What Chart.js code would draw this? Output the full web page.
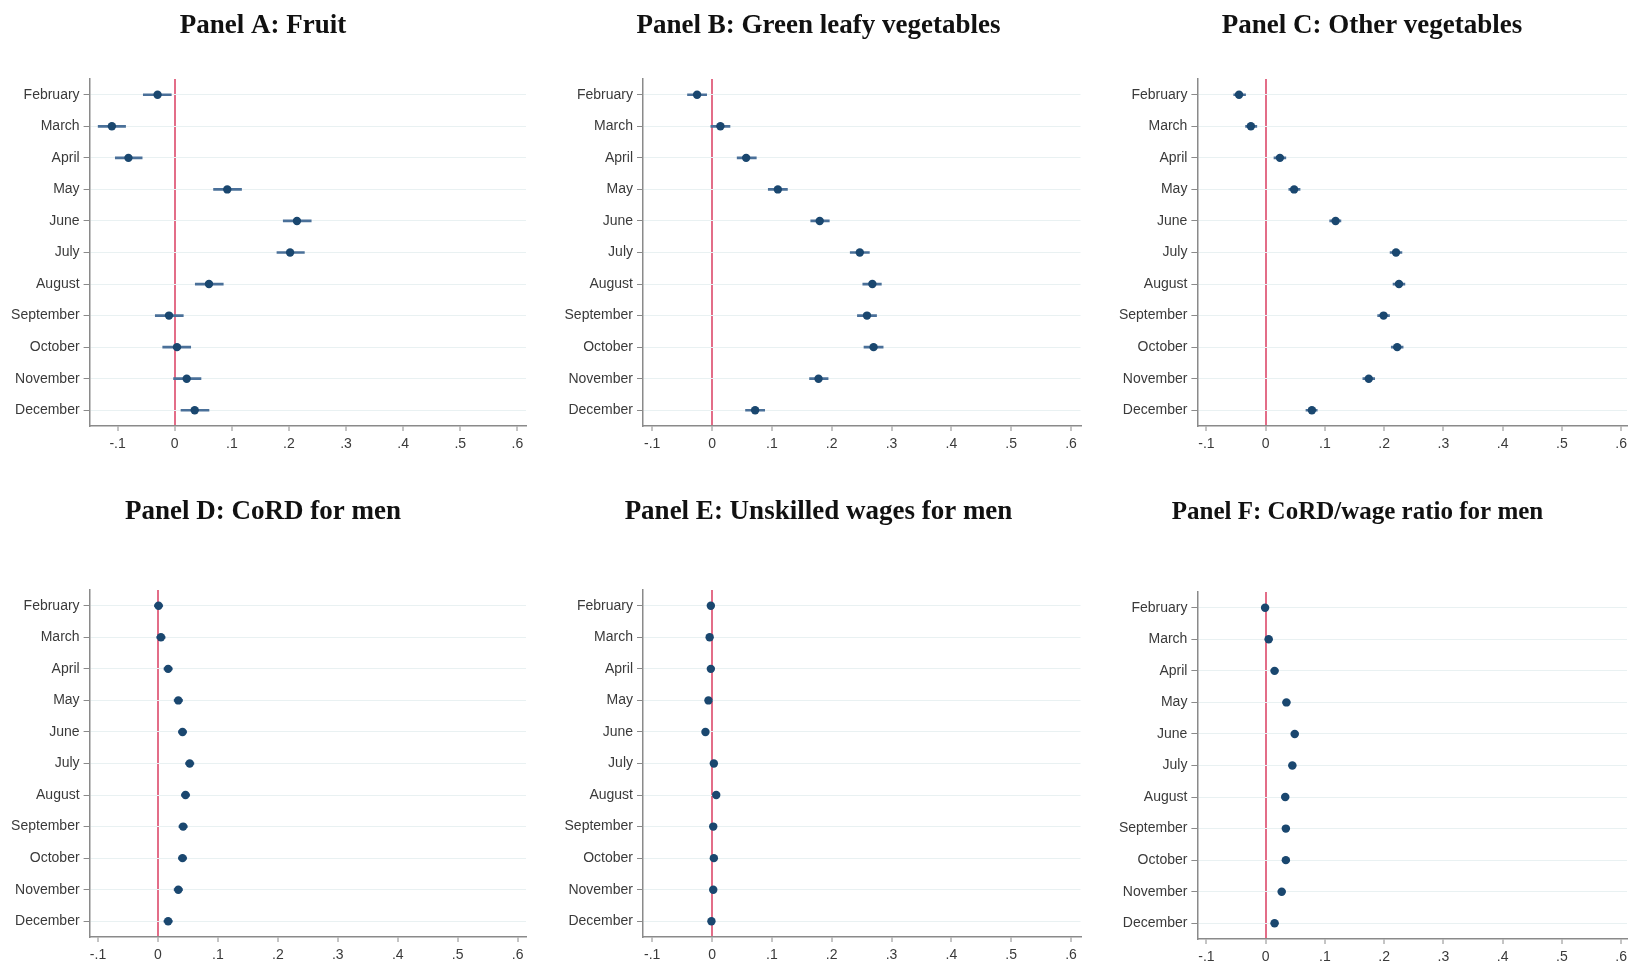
<!DOCTYPE html>
<html>
<head>
<meta charset="utf-8">
<script src="https://cdn.jsdelivr.net/npm/chart.js@4.4.1/dist/chart.umd.min.js"></script>
<style>
  html, body { margin: 0; padding: 0; background: #fff; }
  #wrap { position: relative; width: 1632px; height: 962px; overflow: hidden; }
  canvas { position: absolute; }
</style>
</head>
<body>
<div id="wrap">
  <canvas id="panel-a" width="544" height="480" style="left:0;top:0"></canvas>
  <canvas id="panel-b" width="544" height="480" style="left:544px;top:0"></canvas>
  <canvas id="panel-c" width="544" height="480" style="left:1088px;top:0"></canvas>
  <canvas id="panel-d" width="544" height="482" style="left:0;top:480px"></canvas>
  <canvas id="panel-e" width="544" height="482" style="left:544px;top:480px"></canvas>
  <canvas id="panel-f" width="544" height="482" style="left:1088px;top:480px"></canvas>
</div>
<script>
// month coefficients with 95% CIs
const months = ["February", "March", "April", "May", "June", "July",
  "August", "September", "October", "November", "December"];
const xTickValues = [-0.1, 0, 0.1, 0.2, 0.3, 0.4, 0.5, 0.6];
const xTickLabels = ["-.1", "0", ".1", ".2", ".3", ".4", ".5", ".6"];

const fruitEst = [-0.030, -0.110, -0.081, 0.092, 0.214, 0.202, 0.060, -0.010, 0.004, 0.021, 0.035];
const fruitLo = [-0.055, -0.134, -0.104, 0.068, 0.190, 0.179, 0.036, -0.034, -0.021, -0.002, 0.011];
const fruitHi = [-0.006, -0.086, -0.057, 0.117, 0.239, 0.227, 0.085, 0.015, 0.028, 0.046, 0.060];

const leafyEst = [-0.025, 0.014, 0.057, 0.110, 0.180, 0.247, 0.268, 0.259, 0.270, 0.178, 0.072];
const leafyLo = [-0.041, -0.002, 0.042, 0.094, 0.165, 0.231, 0.252, 0.243, 0.254, 0.163, 0.056];
const leafyHi = [-0.009, 0.030, 0.074, 0.126, 0.196, 0.263, 0.283, 0.275, 0.286, 0.194, 0.088];

const otherVegEst = [-0.045, -0.025, 0.024, 0.048, 0.118, 0.220, 0.225, 0.199, 0.222, 0.174, 0.078];
const otherVegLo = [-0.054, -0.034, 0.014, 0.039, 0.108, 0.210, 0.215, 0.189, 0.212, 0.164, 0.068];
const otherVegHi = [-0.034, -0.015, 0.034, 0.058, 0.127, 0.230, 0.235, 0.209, 0.232, 0.184, 0.087];

const cordEst = [0.001, 0.005, 0.017, 0.034, 0.041, 0.053, 0.046, 0.042, 0.041, 0.034, 0.017];
const cordLo = [-0.006, -0.002, 0.010, 0.027, 0.034, 0.046, 0.039, 0.035, 0.034, 0.027, 0.010];
const cordHi = [0.008, 0.012, 0.024, 0.041, 0.048, 0.060, 0.053, 0.049, 0.048, 0.041, 0.024];

const wageEst = [-0.002, -0.004, -0.002, -0.006, -0.011, 0.003, 0.007, 0.002, 0.003, 0.002, -0.001];
const wageLo = [-0.007, -0.009, -0.007, -0.011, -0.016, -0.002, 0.002, -0.003, -0.002, -0.003, -0.006];
const wageHi = [0.003, 0.001, 0.003, -0.001, -0.006, 0.008, 0.012, 0.007, 0.008, 0.007, 0.004];

const ratioEst = [-0.001, 0.005, 0.015, 0.035, 0.049, 0.045, 0.033, 0.034, 0.034, 0.027, 0.015];
const ratioLo = [-0.007, -0.001, 0.009, 0.029, 0.043, 0.039, 0.027, 0.028, 0.028, 0.021, 0.009];
const ratioHi = [0.005, 0.011, 0.021, 0.041, 0.055, 0.051, 0.039, 0.040, 0.040, 0.033, 0.021];

const NAVY = "#1a476f";
const CI_COLOR = "#4a7099";
const ZERO_RED = "#e36d88";
const AXIS_GRAY = "#8a8a8a";
const GRID = "#e9f1f2";
const TEXT = "#3a3a3a";
const SANS = "'Liberation Sans', Arial, sans-serif";

function makePanel(id, title, est, lo, hi, geo) {
  new Chart(document.getElementById(id), {
    type: "bar",
    data: {
      labels: months,
      datasets: [
        {
          type: "line",
          indexAxis: "y",
          data: est,
          showLine: false,
          pointRadius: 4.2,
          pointBorderWidth: 0,
          pointBackgroundColor: NAVY,
          order: 0,
        },
        {
          type: "bar",
          indexAxis: "y",
          data: lo.map((l, i) => [l, hi[i]]),
          backgroundColor: CI_COLOR,
          barThickness: 2,
          borderWidth: 0,
          order: 1,
        },
      ],
    },
    options: {
      indexAxis: "y",
      responsive: false,
      animation: false,
      layout: { padding: { left: geo.padLeft, right: geo.padRight, top: 0, bottom: geo.padBottom } },
      plugins: {
        legend: { display: false },
        tooltip: { enabled: false },
        title: {
          display: true,
          text: title,
          color: "#111",
          font: { family: "'Liberation Serif', 'Times New Roman', serif", size: geo.titleSize || 27, weight: "bold" },
          padding: { top: geo.titleTop, bottom: geo.titleBottom },
        },
      },
      scales: {
        x: {
          type: "linear",
          min: geo.xMin,
          max: geo.xMax,
          afterBuildTicks: (scale) => {
            scale.ticks = xTickValues.map((v) => ({ value: v }));
          },
          afterFit: (scale) => { scale.height = geo.axisHeight; },
          border: { display: true, color: AXIS_GRAY, width: 1.5 },
          grid: {
            color: (ctx) => (ctx.tick && ctx.tick.value === 0 ? ZERO_RED : "rgba(0,0,0,0)"),
            lineWidth: 2,
            tickColor: AXIS_GRAY,
            tickLength: 5,
            tickWidth: 1,
          },
          ticks: {
            color: TEXT,
            padding: 5,
            font: { family: SANS, size: 14 },
            callback: (v) => {
              const i = xTickValues.findIndex((t) => Math.abs(t - v) < 1e-9);
              return i >= 0 ? xTickLabels[i] : "";
            },
          },
        },
        y: {
          type: "category",
          offset: true,
          afterFit: (scale) => { scale.width = geo.axisWidth; },
          border: { display: true, color: AXIS_GRAY, width: 1.5 },
          grid: {
            offset: false,
            color: GRID,
            lineWidth: 1,
            tickColor: AXIS_GRAY,
            tickLength: 6,
            tickWidth: 1,
          },
          ticks: {
            color: TEXT,
            padding: 4,
            autoSkip: false,
            font: { family: SANS, size: 14 },
          },
        },
      },
    },
  });
}

const topRow = { titleTop: 9.8, titleBottom: 36.8, axisHeight: 40, padBottom: 14 };
const bottomRow = { titleTop: 16.2, titleBottom: 61.4, axisHeight: 25, padBottom: 0 };
const bottomRowF = { titleTop: 17.4, titleBottom: 64.6, titleSize: 25, axisHeight: 23, padBottom: 0 };
const leftCol = { xMin: -0.149, xMax: 0.615, padLeft: 0, axisWidth: 89.6, padRight: 18 };
const leftColD = { xMin: -0.114, xMax: 0.614, padLeft: 0, axisWidth: 89.6, padRight: 18 };
const midCol = { xMin: -0.1154, xMax: 0.6159, padLeft: 12.5, axisWidth: 86.5, padRight: 7.5 };
const rightCol = { xMin: -0.1153, xMax: 0.610, padLeft: 24, axisWidth: 85.4, padRight: 0 };
const rightColF = { xMin: -0.1153, xMax: 0.610, padLeft: -5, axisWidth: 114.4, padRight: 0 };

makePanel("panel-a", "Panel A: Fruit", fruitEst, fruitLo, fruitHi, { ...topRow, ...leftCol });
makePanel("panel-b", "Panel B: Green leafy vegetables", leafyEst, leafyLo, leafyHi, { ...topRow, ...midCol });
makePanel("panel-c", "Panel C: Other vegetables", otherVegEst, otherVegLo, otherVegHi, { ...topRow, ...rightCol });
makePanel("panel-d", "Panel D: CoRD for men", cordEst, cordLo, cordHi, { ...bottomRow, ...leftColD });
makePanel("panel-e", "Panel E: Unskilled wages for men", wageEst, wageLo, wageHi, { ...bottomRow, ...midCol });
makePanel("panel-f", "Panel F: CoRD/wage ratio for men", ratioEst, ratioLo, ratioHi, { ...bottomRowF, ...rightColF });
</script>
</body>
</html>
